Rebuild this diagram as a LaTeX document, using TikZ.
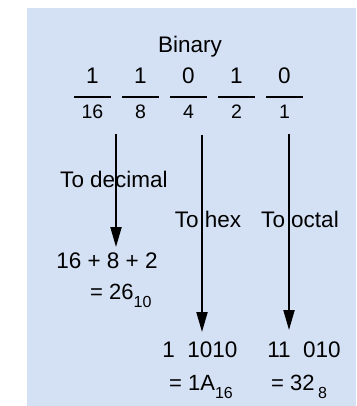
\documentclass[tikz,border=0pt]{standalone}
\usepackage{fontspec}
\setmainfont{Liberation Sans}
\usetikzlibrary{arrows.meta}
\definecolor{bgblue}{RGB}{212,224,243}
\begin{document}
\begin{tikzpicture}[x=1pt,y=-1pt,
  lbl/.style={inner sep=0pt, anchor=base, font=\fontsize{22.5}{27}\selectfont},
  res/.style={inner sep=0pt, anchor=base west, font=\fontsize{22}{27}\selectfont},
  wt/.style={inner sep=0pt, anchor=base, font=\fontsize{19.5}{23}\selectfont},
  bar/.style={line width=2.6pt},
  conv/.style={line width=2pt, -{Triangle[length=20pt,width=11pt]}},
]
\newcommand{\subs}[1]{\raisebox{-8pt}{\fontsize{16}{18}\selectfont #1}}
\useasboundingbox (0,0) rectangle (356,406);
\fill[bgblue] (27,8) rectangle (356,406);
\node[lbl] (binary) at (190,53) {Binary};
\foreach \i/\x/\d/\w in {1/92.5/1/16, 2/140.5/1/8, 3/188.5/0/4, 4/236.5/1/2, 5/284.5/0/1} {
  \node[lbl] (d\i) at (\x,84) {\d};
  \draw[bar] (\x-18.5,97) -- (\x+18.5,97);
  \node[wt] (w\i) at (\x,119) {\w};
}
% labels
\node[lbl] (todec) at (114,187) {To decimal};
\node[lbl] (tohex) at (208,227) {To hex};
\node[lbl] (tooct) at (300,227) {To octal};
% results
\node[lbl] (dec1) at (107,268) {16 + 8 + 2};
\node[res] (dec2) at (90,299) {= 26\subs{10}};
\node[lbl] (hex1) at (200,357) {1\ \ 1010};
\node[res] (hex2) at (169,390) {= 1A\subs{16}};
\node[lbl] (oct1) at (304,357) {11\ \ 010};
\node[res] (oct2) at (271,390) {= 32\hspace{3.5pt}\subs{8}};
% arrows
\coordinate (a1s) at (116,134);
\coordinate (a1e) at (116,247);
\coordinate (a2s) at (202,135);
\coordinate (a2e) at (202,332);
\coordinate (a3s) at (289,134);
\coordinate (a3e) at (289,330);
\draw[conv] (a1s) -- (a1e);
\draw[conv] (a2s) -- (a2e);
\draw[conv] (a3s) -- (a3e);
\end{tikzpicture}
\end{document}
